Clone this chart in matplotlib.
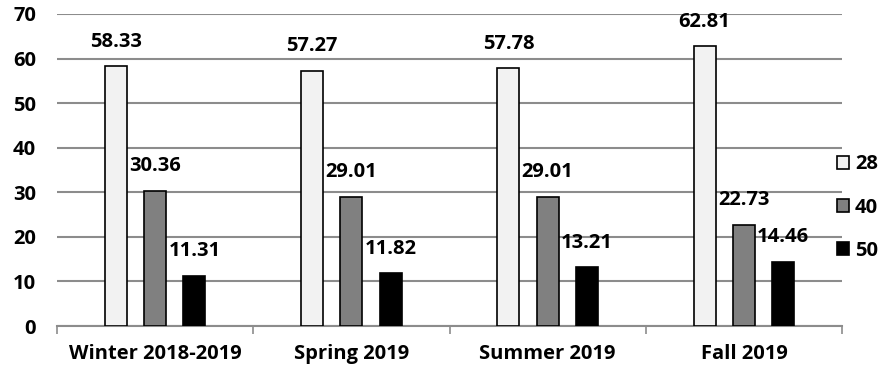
import matplotlib
matplotlib.use("Agg")
import matplotlib.pyplot as plt
import numpy as np

seasons = ["Winter 2018-2019", "Spring 2019", "Summer 2019", "Fall 2019"]
series_names = ["28", "40", "50"]
values_28 = [58.33, 57.27, 57.78, 62.81]
values_40 = [30.36, 29.01, 29.01, 22.73]
values_50 = [11.31, 11.82, 13.21, 14.46]
y_ticks = [0, 10, 20, 30, 40, 50, 60, 70]

plt.rcParams["font.family"] = ["Open Sans", "DejaVu Sans"]
plt.rcParams["font.weight"] = "bold"
FS = 14.5

fig = plt.figure(figsize=(8.79, 3.74), dpi=100)
ax = fig.add_axes([0.0648, 0.1283, 0.958 - 0.0648, 0.9626 - 0.1283])

x = np.arange(len(seasons))
offset = 0.2
width = 0.112
fills = ["#f2f2f2", "#808080", "#000000"]
series = [values_28, values_40, values_50]

handles = []
for i, (vals, name, fc) in enumerate(zip(series, series_names, fills)):
    pos = x + (i - 1) * offset
    bars = ax.bar(pos, vals, width=width, color=fc, edgecolor="#000000",
                  linewidth=1.2, label=name, zorder=3)
    handles.append(bars)
    for px, v in zip(pos, vals):
        ax.annotate(f"{v:.2f}", (px, v), xytext=(0, 17.5), textcoords="offset points",
                    ha="center", va="center", fontsize=FS, fontweight="bold",
                    color="#000000", zorder=4)

ax.set_xlim(-0.5, len(seasons) - 0.5)
ax.set_ylim(0, 70)
ax.set_yticks(y_ticks)
ax.set_yticklabels([str(t) for t in y_ticks], fontsize=FS, fontweight="bold")
ax.tick_params(axis="y", length=0, pad=15)
ax.yaxis.grid(True, color="#8c8c8c", linewidth=1.5, zorder=0)
ax.set_axisbelow(True)

ax.set_xticks(x)
ax.set_xticklabels(seasons, fontsize=FS, fontweight="bold")
ax.set_xticks(np.arange(len(seasons) + 1) - 0.5, minor=True)
ax.tick_params(axis="x", which="major", length=0, pad=13)
ax.tick_params(axis="x", which="minor", length=6, width=1.2, color="#8c8c8c")

for side in ["top", "right", "left"]:
    ax.spines[side].set_visible(False)
ax.spines["bottom"].set_color("#8c8c8c")
ax.spines["bottom"].set_linewidth(1.5)

leg = fig.legend(handles=handles, labels=series_names, loc="center left",
                 bbox_to_anchor=(0.952, 0.445), frameon=False,
                 borderpad=0, borderaxespad=0,
                 handlelength=0.6, handleheight=0.6, handletextpad=0.3,
                 labelspacing=1.15, prop={"size": FS, "weight": "bold"})

fig.savefig("out.png", dpi=100)
